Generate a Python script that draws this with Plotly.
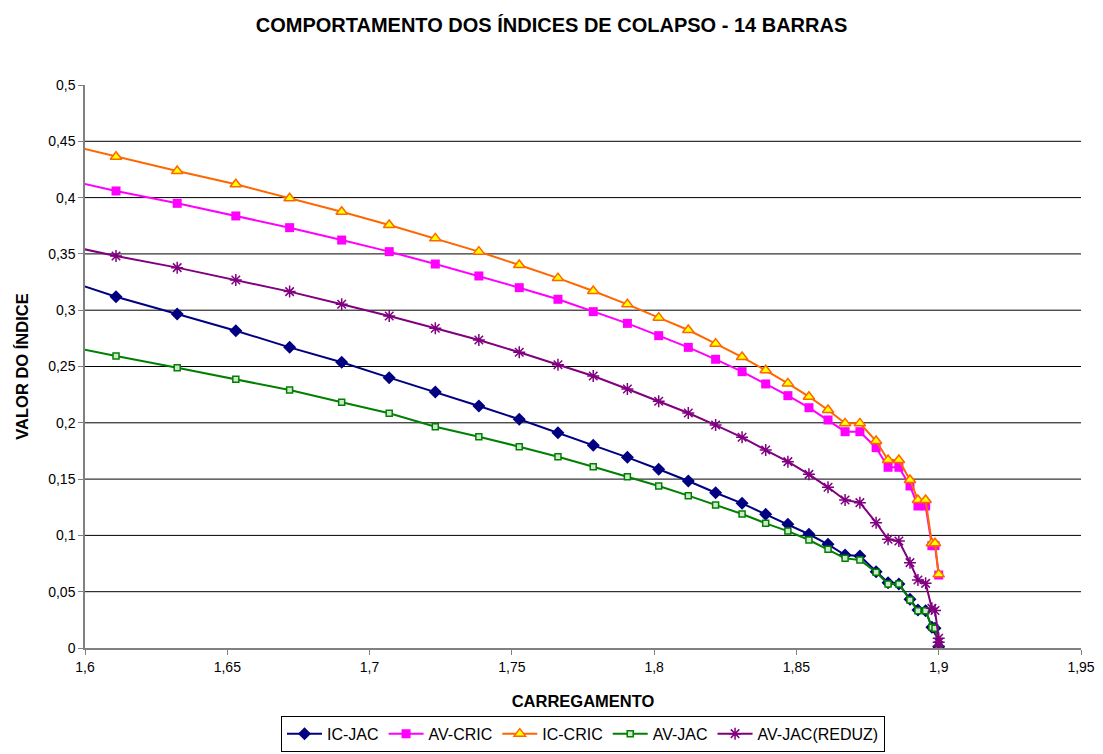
import plotly.graph_objects as go

# Loading steps of the continuation (shared by all indices)
carregamento = [1.588, 1.6109, 1.6324, 1.6530, 1.6719, 1.6902, 1.7069, 1.7231, 1.7384,
                1.7526, 1.7662, 1.7786, 1.7906, 1.8016, 1.8120, 1.8216, 1.8309,
                1.8392, 1.8470, 1.8544, 1.8611, 1.8671, 1.8723, 1.8780, 1.8822,
                1.8860, 1.8899, 1.8927, 1.8954, 1.8976, 1.8987, 1.9000]

ic_jac = [0.3309, 0.3120, 0.2966, 0.2818, 0.2670, 0.2537, 0.2401, 0.2274, 0.2149,
          0.2031, 0.1912, 0.1800, 0.1693, 0.1587, 0.1483, 0.1379, 0.1285,
          0.1187, 0.1098, 0.1010, 0.0921, 0.0826, 0.0817, 0.0678, 0.0580,
          0.0568, 0.0432, 0.0337, 0.0331, 0.0184, 0.0175, 0.0010]

av_cric = [0.4187, 0.4059, 0.3949, 0.3837, 0.3733, 0.3623, 0.3520, 0.3410, 0.3304,
           0.3200, 0.3097, 0.2987, 0.2883, 0.2774, 0.2670, 0.2564, 0.2454,
           0.2345, 0.2241, 0.2134, 0.2025, 0.1921, 0.1921, 0.1779, 0.1605,
           0.1605, 0.1439, 0.1261, 0.1261, 0.0909, 0.0909, 0.0648]

ic_cric = [0.4504, 0.4363, 0.4236, 0.4118, 0.3994, 0.3875, 0.3757, 0.3638, 0.3520,
           0.3401, 0.3285, 0.3170, 0.3052, 0.2934, 0.2824, 0.2703, 0.2584,
           0.2466, 0.2350, 0.2232, 0.2114, 0.1995, 0.1995, 0.1838, 0.1670,
           0.1670, 0.1492, 0.1314, 0.1314, 0.0930, 0.0930, 0.0654]

av_jac = [0.2712, 0.2593, 0.2489, 0.2386, 0.2291, 0.2182, 0.2084, 0.1965, 0.1877,
          0.1788, 0.1699, 0.1610, 0.1521, 0.1439, 0.1353, 0.1270, 0.1190,
          0.1107, 0.1038, 0.0959, 0.0876, 0.0796, 0.0782, 0.0672, 0.0568,
          0.0568, 0.0426, 0.0331, 0.0331, 0.0184, 0.0175, 0.0005]

# The reduced-Jacobian index has a few extra points right at the nose
carregamento_reduz = carregamento[:-1] + [1.9000, 1.9000, 1.9000]
av_jac_reduz = [0.3605, 0.3481, 0.3378, 0.3268, 0.3165, 0.3052, 0.2948, 0.2839, 0.2735,
                0.2626, 0.2515, 0.2416, 0.2300, 0.2191, 0.2087, 0.1980, 0.1871,
                0.1758, 0.1655, 0.1542, 0.1427, 0.1314, 0.1291, 0.1113, 0.0965,
                0.0950, 0.0758, 0.0604, 0.0574, 0.0352, 0.0333, 0.0086, 0.0050,
                0.0015]

x_ticks = [1.6, 1.65, 1.7, 1.75, 1.8, 1.85, 1.9, 1.95]
x_tick_text = ["1,6", "1,65", "1,7", "1,75", "1,8", "1,85", "1,9", "1,95"]
y_ticks = [0, 0.05, 0.1, 0.15, 0.2, 0.25, 0.3, 0.35, 0.4, 0.45, 0.5]
y_tick_text = ["0", "0,05", "0,1", "0,15", "0,2", "0,25", "0,3", "0,35", "0,4", "0,45", "0,5"]

FONT = "Arial, Liberation Sans, sans-serif"

fig = go.Figure()

fig.add_trace(go.Scatter(
    x=carregamento, y=ic_jac, name="IC-JAC", mode="lines+markers",
    line=dict(color="#000080", width=2),
    marker=dict(symbol="diamond", size=10, color="#000080"),
))
fig.add_trace(go.Scatter(
    x=carregamento, y=av_cric, name="AV-CRIC", mode="lines+markers",
    line=dict(color="#FF00FF", width=2),
    marker=dict(symbol="square", size=9, color="#FF00FF"),
))
fig.add_trace(go.Scatter(
    x=carregamento, y=ic_cric, name="IC-CRIC", mode="lines+markers",
    line=dict(color="#FF6600", width=2),
    marker=dict(symbol="triangle-up", size=10, color="#FFFF00",
                line=dict(color="#FF6600", width=1.5)),
))
fig.add_trace(go.Scatter(
    x=carregamento, y=av_jac, name="AV-JAC", mode="lines+markers",
    line=dict(color="#008000", width=2),
    marker=dict(symbol="square", size=6, color="#cfe8cf",
                line=dict(color="#008000", width=1.5)),
))
fig.add_trace(go.Scatter(
    x=carregamento_reduz, y=av_jac_reduz, name="AV-JAC(REDUZ)", mode="lines+markers",
    line=dict(color="#800080", width=2),
    marker=dict(symbol="asterisk-open", size=10,
                line=dict(color="#800080", width=1.5)),
))

# Horizontal grid lines at the inner y ticks (none along the top edge)
for v in y_ticks[1:-1]:
    fig.add_shape(type="line", xref="paper", yref="y", x0=0, x1=1, y0=v, y1=v,
                  line=dict(color="#000000", width=1), layer="below")

fig.update_layout(
    width=1103, height=754,
    margin=dict(l=85, r=22, t=85, b=106),
    paper_bgcolor="white", plot_bgcolor="white",
    font=dict(family=FONT, size=14, color="#000000"),
    title=dict(text="<b>COMPORTAMENTO DOS ÍNDICES DE COLAPSO - 14 BARRAS</b>",
               xref="container", x=0.5, xanchor="center",
               yref="container", y=0.967, yanchor="middle",
               font=dict(family=FONT, size=20)),
    xaxis=dict(
        range=[1.6, 1.95], tickvals=x_ticks, ticktext=x_tick_text,
        showgrid=False, zeroline=False, automargin=False,
        showline=True, linecolor="#808080", linewidth=1.5,
        ticks="outside", ticklen=5, tickcolor="#808080",
        tickfont=dict(family=FONT, size=14),
        title=dict(text="<b>CARREGAMENTO</b>", standoff=22,
                   font=dict(family=FONT, size=16.5)),
    ),
    yaxis=dict(
        range=[0, 0.5], tickvals=y_ticks, ticktext=y_tick_text,
        showgrid=False, zeroline=False, automargin=False,
        showline=True, linecolor="#808080", linewidth=1.5,
        ticks="outside", ticklen=5, tickcolor="#808080",
        tickfont=dict(family=FONT, size=14),
        title=dict(text="<b>VALOR DO ÍNDICE</b>", standoff=15,
                   font=dict(family=FONT, size=16.5)),
    ),
    legend=dict(
        orientation="h", x=0.5, xanchor="center",
        yref="container", y=0.003, yanchor="bottom",
        bordercolor="#000000", borderwidth=1, bgcolor="white",
        font=dict(family=FONT, size=16), itemwidth=35,
        tracegroupgap=0,
    ),
    showlegend=True,
)

fig.write_html("out.html")
